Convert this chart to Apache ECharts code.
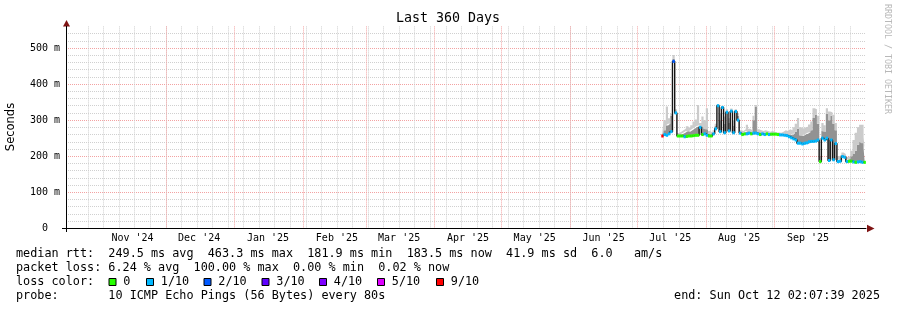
<!DOCTYPE html>
<html><head><meta charset="utf-8">
<script src="https://cdn.jsdelivr.net/npm/echarts@6/dist/echarts.min.js"></script>
<style>html,body{margin:0;padding:0;background:#fff}#c{width:897px;height:310px}</style>
</head><body><div id="c"></div>
<script>
// ---- data ----
const days = ['07-12','07-13','07-14','07-15','07-16','07-17','07-18','07-19','07-20','07-21','07-22','07-23','07-24','07-25','07-26','07-27','07-28','07-29','07-30','07-31',
'08-01','08-02','08-03','08-04','08-05','08-06','08-07','08-08','08-09','08-10','08-11','08-12','08-13','08-14','08-15','08-16','08-17','08-18','08-19','08-20','08-21','08-22','08-23','08-24','08-25','08-26','08-27','08-28','08-29','08-30','08-31',
'09-01','09-02','09-03','09-04','09-05','09-06','09-07','09-08','09-09','09-10','09-11','09-12','09-13','09-14','09-15','09-16','09-17','09-18','09-19','09-20','09-21','09-22','09-23','09-24','09-25','09-26','09-27','09-28','09-29','09-30',
'10-01','10-02','10-03','10-04','10-05','10-06','10-07','10-08','10-09','10-10','10-11'];
const year = 2025;
// median rtt in ms
const median = [256,260,258,262,268,463,320,256,256,256,254,255,256,256,257,258,258,280,260,262,
258,256,256,262,276,340,268,335,265,322,270,325,265,324,300,264,260,262,262,264,262,264,264,262,260,262,260,262,260,261,261,
261,260,259,259,258,257,254,251,248,245,236,236,234,236,237,240,241,241,242,245,185,250,245,250,188,245,190,235,185,186,
199,197,185,186,186,184,183,184,185,183,183];
// lost pings out of 10
const loss = [9,1,1,1,1,2,1,0,0,0,1,0,0,0,0,0,0,1,0,1,
1,0,0,1,1,1,1,1,1,1,1,1,1,1,1,1,0,0,1,1,0,1,1,1,0,1,1,0,1,0,0,
0,0,1,1,1,1,1,1,1,1,1,1,1,1,1,1,1,1,1,1,0,1,1,1,1,1,1,1,1,1,
1,1,1,0,0,1,0,1,1,1,0];
// inner (dark) smoke top, ms
const smokeMid = [262,272,285,290,312,470,324,260,260,262,266,270,268,272,276,280,284,286,282,276,
274,262,260,266,284,342,300,338,290,326,292,328,285,327,312,268,264,266,270,268,266,300,338,268,266,266,265,266,264,265,264,
264,263,262,262,263,262,260,258,262,268,276,258,256,260,262,266,272,306,315,290,190,270,268,318,300,312,290,272,190,192,
202,200,190,192,200,206,215,232,240,236,222];
// outer (light) smoke top, ms
const smokeHi = [270,300,338,305,318,481,330,264,268,272,276,283,278,286,296,302,342,292,310,300,
333,270,266,272,290,344,318,340,310,330,305,332,300,330,320,272,270,275,287,276,272,312,342,275,272,270,272,270,268,270,268,
266,266,265,268,272,270,275,272,280,290,306,280,276,280,282,288,296,333,330,312,198,292,286,333,324,322,315,292,200,204,
210,206,198,200,215,245,265,280,287,287,252];
const monthStarts = ['2024-11-01','2024-12-01','2025-01-01','2025-02-01','2025-03-01','2025-04-01','2025-05-01','2025-06-01','2025-07-01','2025-08-01','2025-09-01','2025-10-01'];
const monthLabelDates = ['2024-11-16','2024-12-16','2025-01-16','2025-02-16','2025-03-16','2025-04-16','2025-05-16','2025-06-16','2025-07-16','2025-08-16','2025-09-16'];
const monthLabels = ["Nov '24","Dec '24","Jan '25","Feb '25","Mar '25","Apr '25","May '25","Jun '25","Jul '25","Aug '25","Sep '25"];
const lossLevels = ['0','1/10','2/10','3/10','4/10','5/10','9/10'];
const lossColors = {0:'#26ff00',1:'#00b8ff',2:'#0059ff',3:'#5e00ff',4:'#7e00ff',5:'#dd00ff',9:'#ff0000'};
const lossLegendColors = ['#26ff00','#00b8ff','#0059ff','#5e00ff','#7e00ff','#dd00ff','#ff0000'];
const statsLines = [
 'median rtt:  249.5 ms avg  463.3 ms max  181.9 ms min  183.5 ms now  41.9 ms sd  6.0   am/s',
 'packet loss: 6.24 % avg  100.00 % max  0.00 % min  0.02 % now',
 'loss color:',
 'probe:       10 ICMP Echo Pings (56 Bytes) every 80s'
];
const endText = 'end: Sun Oct 12 02:07:39 2025';
const titleText = 'Last 360 Days';

// ---- build ----
const MONO = '"DejaVu Sans Mono", monospace';
function ts(md){ const [m,d]=md.split('-').map(Number); return Date.UTC(year,m-1,d,12); }
function dts(s){ const [y,m,d]=s.split('-').map(Number); return Date.UTC(y,m-1,d); }
const startT = Date.UTC(2024,9,17,2,7,39), endT = Date.UTC(2025,9,12,2,7,39);
const X = days.map(ts);
const baseData = X.map((t,i)=>[t, median[i]]);
const midData = X.map((t,i)=>[t, smokeMid[i]-median[i]]);
const hiData = X.map((t,i)=>[t, smokeHi[i]-smokeMid[i]]);

const sundays = [];
for (let t = Date.UTC(2024,9,20); t < endT; t += 7*86400000) sundays.push(t);
const monthTs = monthStarts.map(dts);
const labelTs = monthLabelDates.map(dts);
const labelMap = {}; labelTs.forEach((t,i)=>labelMap[t]=monthLabels[i]);

const minorStyle = {color:'#d0d0d0', type:[1,1], width:1};
const majorStyle = {color:'#f3a2a2', type:[1,1], width:1};

function txt(text, x, y, font, fill, align, extra){
  return Object.assign({type:'text', style:{text, x, y, font, fill, align, verticalAlign:'middle', textAlign:align, textVerticalAlign:'middle'}}, extra||{});
}
const graphics = [];
graphics.push(txt(titleText, 448, 19, '13.3px '+MONO, '#000', 'center'));
graphics.push(txt('Seconds', 0, 0, '11.5px "DejaVu Sans", sans-serif', '#000', 'center', {rotation:Math.PI/2, x:11, y:127}));
graphics.push(txt('RRDTOOL / TOBI OETIKER', 0, 0, '8.3px '+MONO, '#b8b8b8', 'left', {rotation:-Math.PI/2, x:887, y:4}));
const lineY = [254,268,282,296];
statsLines.forEach((s,i)=>graphics.push(txt(s, 16, lineY[i], '11.8px '+MONO, '#000', 'left')));
graphics.push(txt(endText, 880, 296, '11.8px '+MONO, '#000', 'right'));
const sqX = [108.5,146,203.5,261.5,319,377,436];
lossLevels.forEach((l,i)=>{
  graphics.push({type:'rect', shape:{x:sqX[i]+0.5, y:278.5, width:7, height:7}, style:{fill:lossLegendColors[i], stroke:'#000', lineWidth:1}});
  graphics.push(txt(l, sqX[i]+14.8, 282, '11.8px '+MONO, '#000', 'left'));
});
graphics.push({type:'polygon', shape:{points:[[867,224.8],[874.5,228.5],[867,232.2]]}, style:{fill:'#7f1414'}});
graphics.push({type:'polygon', shape:{points:[[63,26.5],[66.5,20],[70,26.5]]}, style:{fill:'#7f1414'}});
graphics.push({type:'line', shape:{x1:62,y1:228.5,x2:66,y2:228.5}, style:{stroke:'#000', lineWidth:1}});
graphics.push({type:'line', shape:{x1:66.5,y1:228,x2:66.5,y2:232}, style:{stroke:'#000', lineWidth:1}});

const hiddenX = (extra)=>Object.assign({type:'value', min:startT, max:endT, position:'bottom',
  axisLine:{show:false}, axisLabel:{show:false}, axisTick:{show:false}, splitLine:{show:false}}, extra);

const chart = echarts.init(document.getElementById('c'), null, {renderer:'canvas'});
chart.setOption({
  animation:false,
  backgroundColor:'#fff',
  grid:{left:66, right:31, top:26.4, bottom:81.7, containLabel:false},
  xAxis:[
    hiddenX({axisTick:{show:false, customValues:sundays}, splitLine:{show:true, showMinLine:false, showMaxLine:false, lineStyle:minorStyle}}),
    hiddenX({axisTick:{show:false, customValues:monthTs}, splitLine:{show:true, showMinLine:false, showMaxLine:false, lineStyle:majorStyle}}),
    hiddenX({axisLabel:{show:true, customValues:labelTs, formatter:(v)=>labelMap[v]||'', color:'#000', fontFamily:MONO, fontSize:10, margin:5, hideOverlap:false}}),
    {type:'time', min:startT, max:endT, position:'bottom',
     axisLine:{show:true, lineStyle:{color:'#000', width:1}},
     axisTick:{show:false}, splitLine:{show:false}, axisLabel:{show:false}}
  ],
  yAxis:[
    {type:'value', min:0, max:560, interval:20, axisLine:{show:false}, axisTick:{show:false}, axisLabel:{show:false},
     splitLine:{show:true, showMinLine:false, showMaxLine:false, lineStyle:minorStyle}},
    {type:'value', min:0, max:560, interval:100, position:'left',
     axisLine:{show:true, lineStyle:{color:'#000', width:1}},
     axisTick:{show:false}, splitLine:{show:true, showMinLine:false, showMaxLine:false, lineStyle:majorStyle},
     axisLabel:{formatter:(v)=> v===0 ? '0  ' : v+' m', showMaxLabel:false, color:'#000', fontFamily:MONO, fontSize:10, margin:6}}
  ],
  series:[
    {type:'line', xAxisIndex:3, yAxisIndex:1, data:baseData, stack:'smoke', step:'middle', symbol:'none', lineStyle:{opacity:0, width:0}, z:1, silent:true},
    {type:'line', xAxisIndex:3, yAxisIndex:1, data:midData, stack:'smoke', step:'middle', symbol:'none', lineStyle:{opacity:0, width:0}, areaStyle:{color:'#929292', opacity:1}, z:2, silent:true},
    {type:'line', xAxisIndex:3, yAxisIndex:1, data:hiData, stack:'smoke', step:'middle', symbol:'none', lineStyle:{opacity:0, width:0}, areaStyle:{color:'#cbcbcb', opacity:1}, z:2, silent:true},
    {type:'line', xAxisIndex:3, yAxisIndex:1, data:baseData, step:'middle', symbol:'none', lineStyle:{color:'#141414', width:1.4}, z:3, silent:true},
    {type:'scatter', xAxisIndex:3, yAxisIndex:1, data:baseData, symbol:'rect', symbolSize:[2.4,3], z:4, silent:true,
      itemStyle:{opacity:1, color:(p)=>lossColors[loss[p.dataIndex]]}}
  ],
  graphic:{elements:graphics}
});
</script></body></html>
